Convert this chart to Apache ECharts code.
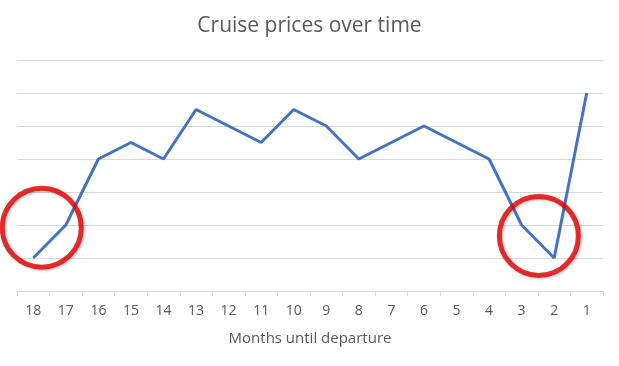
<!DOCTYPE html>
<html>
<head>
<meta charset="utf-8">
<script src="https://cdn.jsdelivr.net/npm/echarts@6/dist/echarts.min.js"></script>
<style>html,body{margin:0;padding:0;background:#fff;}#c{width:619px;height:366px;}</style>
</head>
<body>
<div id="c"></div>
<script>
var months = ['18','17','16','15','14','13','12','11','10','9','8','7','6','5','4','3','2','1'];
var prices = [1, 2, 4, 4.5, 4, 5.5, 5, 4.5, 5.5, 5, 4, 4.5, 5, 4.5, 4, 2, 1, 6];
var circleX = [0.26, 15.53];
var circleY = [1.92, 1.67];

var chart = echarts.init(document.getElementById('c'), null, {renderer: 'canvas'});
var font = '"Open Sans", "Liberation Sans", sans-serif';
chart.setOption({
  animation: false,
  backgroundColor: '#ffffff',
  title: {
    text: 'Cruise prices over time',
    left: 'center',
    top: 11,
    textStyle: {fontFamily: font, fontSize: 21, fontWeight: 'normal', color: '#595959'}
  },
  grid: {left: 17, right: 16, top: 60, bottom: 75},
  xAxis: [{
    type: 'category',
    data: months,
    boundaryGap: true,
    name: 'Months until departure',
    nameLocation: 'middle',
    nameGap: 40,
    nameTextStyle: {fontFamily: font, fontSize: 15, color: '#595959'},
    axisLine: {lineStyle: {color: '#d9d9d9', width: 1}},
    axisTick: {show: true, length: 5, lineStyle: {color: '#d9d9d9'}},
    axisLabel: {fontFamily: font, fontSize: 14, color: '#595959', margin: 13},
    splitLine: {show: false}
  }, {
    type: 'value',
    min: -0.5,
    max: 17.5,
    show: false
  }],
  yAxis: {
    type: 'value',
    min: 0,
    max: 7,
    interval: 1,
    axisLine: {show: false},
    axisTick: {show: false},
    axisLabel: {show: false},
    splitLine: {lineStyle: {color: '#d9d9d9', width: 1}}
  },
  series: [{
    type: 'line',
    data: prices,
    xAxisIndex: 0,
    symbol: 'none',
    lineStyle: {color: '#4472C4', width: 3},
    z: 2
  }, {
    type: 'scatter',
    xAxisIndex: 1,
    data: circleX.map(function(x, i){ return [x, circleY[i]]; }),
    symbol: 'circle',
    symbolSize: 79,
    itemStyle: {
      color: 'rgba(0,0,0,0)',
      borderColor: '#e60000',
      borderWidth: 5,
      shadowBlur: 3,
      shadowColor: 'rgba(0,0,0,0.3)',
      shadowOffsetX: 1,
      shadowOffsetY: 1
    },
    silent: true,
    z: 3
  }]
});
</script>
</body>
</html>
